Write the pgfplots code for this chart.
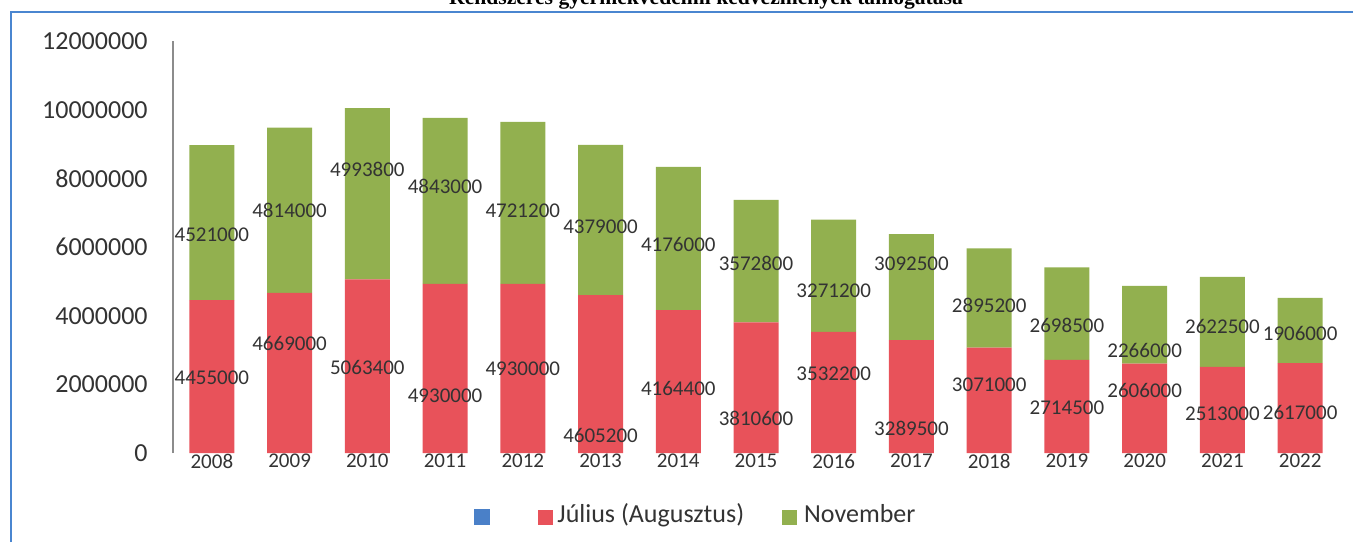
\documentclass[border=0pt]{standalone}
\usepackage{fontspec}
\setmainfont{Carlito}
\newfontfamily\titlefont{Liberation Serif}
\usepackage{pgfplots}
\usepackage{pgfplotstable}
\pgfplotsset{compat=1.18}
\definecolor{jul}{HTML}{E8525A}
\definecolor{nov}{HTML}{92B04F}
\definecolor{blu}{HTML}{4A80C8}
\definecolor{framec}{HTML}{4A86D0}
\definecolor{txt}{HTML}{333333}

\pgfplotstableread{
x jul nov
0 4455000 4521000
1 4669000 4814000
2 5063400 4993800
3 4930000 4843000
4 4930000 4721200
5 4605200 4379000
6 4164400 4176000
7 3810600 3572800
8 3532200 3271200
9 3289500 3092500
10 3071000 2895200
11 2714500 2698500
12 2606000 2266000
13 2513000 2622500
14 2617000 1906000
}\datatable

\pgfplotstableread{
x y label
0 6350000 4521000
1 7060000 4814000
2 8280000 4993800
3 7760000 4843000
4 7060000 4721200
5 6590000 4379000
6 6090000 4176000
7 5540000 3572800
8 4720000 3271200
9 5510000 3092500
10 4310000 2895200
11 3730000 2698500
12 3000000 2266000
13 3700000 2622500
14 3470000 1906000
0 2190000 4455000
1 3180000 4669000
2 2480000 5063400
3 1660000 4930000
4 2450000 4930000
5 520000 4605200
6 1870000 4164400
7 1020000 3810600
8 2300000 3532200
9 730000 3289500
10 1980000 3071000
11 1310000 2714500
12 1810000 2606000
13 1140000 2513000
14 1170000 2617000
}\labeltable

\pgfplotsset{base/.style={
  scale only axis, width=583pt, height=205.8pt,
  at={(86.5pt,44.5pt)}, anchor=south west,
  xmin=-0.5, xmax=14.5, ymin=0, ymax=12000000,
}}

\begin{document}
\begin{tikzpicture}[x=1pt,y=1pt]
\useasboundingbox (0,0) rectangle (676.5,271);
\draw[framec, line width=1pt] (5.25,0) -- (5.25,264.75) -- (676.5,264.75);
\node[anchor=base, inner sep=0pt, text=black, font=\titlefont\bfseries\fontsize{10.8}{12}\selectfont] at (353,268.5) {Rendszeres gyermekvédelmi kedvezmények támogatása};
\begin{axis}[base,
  ybar stacked, bar width=22.5pt,
  axis lines*=left,
  x axis line style={draw=none},
  y axis line style={draw=gray!90, line width=0.6pt},
  tick style={draw=none},
  ytick={0,2000000,4000000,6000000,8000000,10000000,12000000},
  scaled y ticks=false,
  xtick={0,...,14},
  xticklabels={2008,2009,2010,2011,2012,2013,2014,2015,2016,2017,2018,2019,2020,2021,2022},
  yticklabel style={anchor=east, inner sep=0pt, xshift=-12.5pt, font=\fontsize{13}{15}\selectfont, text=txt},
  xticklabel style={anchor=center, inner sep=0pt, yshift=-4pt, font=\fontsize{10.5}{12}\selectfont, text=txt},
  legend columns=3,
  legend cell align=left,
  legend style={at={(0.4473,-0.1555)}, anchor=center, draw=none, fill=none,
    inner sep=0pt, outer sep=0pt, column sep=0pt, row sep=0pt,
    nodes={inner sep=0pt, text height=0.75em, text depth=0.2em, font=\fontsize{13}{15}\selectfont, text=txt}},
  /pgf/number format/fixed,
  /pgf/number format/1000 sep={},
  /pgf/number format/assume math mode=true,
]
\addlegendimage{legend image code/.code={\fill[blu] (0pt,-3.75pt) rectangle (7.5pt,3.75pt);}}
\addlegendentry{\hspace*{24.5pt}}
\addplot[fill=jul, draw=none, legend image code/.code={\fill[jul] (0pt,-3.75pt) rectangle (7.5pt,3.75pt);}] table[x=x,y=jul]{\datatable};
\addlegendentry{\hspace*{2pt}Július (Augusztus)\hspace*{19pt}}
\addplot[fill=nov, draw=none, legend image code/.code={\fill[nov] (0pt,-3.75pt) rectangle (7.5pt,3.75pt);}] table[x=x,y=nov]{\datatable};
\addlegendentry{\hspace*{3.5pt}November}
\end{axis}
\begin{axis}[base, hide axis]
\addplot[draw=none, mark=none, nodes near coords, point meta=explicit symbolic,
  every node near coord/.append style={anchor=center, inner sep=0pt, font=\fontsize{10.5}{12}\selectfont, text=txt}]
  table[x=x, y=y, meta=label]{\labeltable};
\end{axis}
\end{tikzpicture}
\end{document}
